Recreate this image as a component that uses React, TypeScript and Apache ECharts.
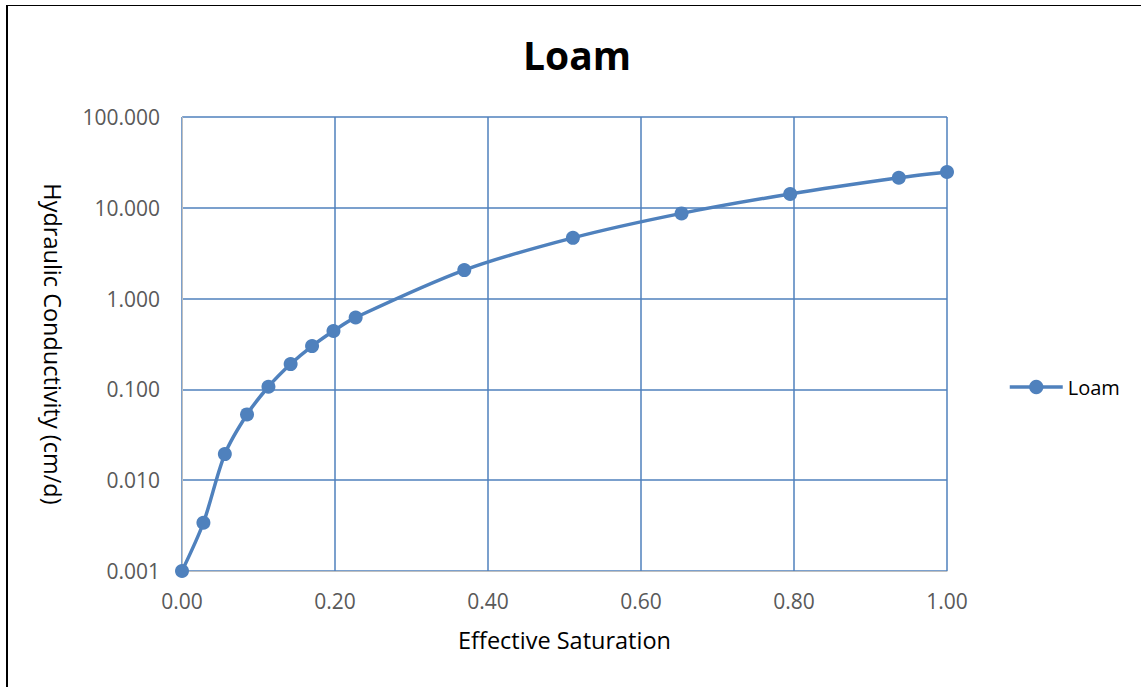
import React, { useEffect, useRef } from "react";
import * as echarts from "echarts";

// Effective saturation (x) and hydraulic conductivity in cm/d (y, log scale)
const saturation = [0, 0.028, 0.056, 0.085, 0.113, 0.142, 0.170, 0.198, 0.227, 0.369, 0.511, 0.653, 0.795, 0.937, 1.0];
const conductivity = [0.001, 0.0034, 0.0194, 0.053, 0.107, 0.19, 0.30, 0.44, 0.62, 2.06, 4.67, 8.68, 14.2, 21.4, 24.8];

const seriesName = "Loam";
const titleText = "Loam";
const xAxisTitle = "Effective Saturation";
const yAxisTitle = "Hydraulic Conductivity (cm/d)";

const BLUE = "#4f81bd";
const FONT = "'Open Sans', 'Noto Sans', sans-serif";

export default function App() {
  const ref = useRef<HTMLDivElement>(null);

  useEffect(() => {
    if (!ref.current) return;
    const chart = echarts.init(ref.current, undefined, { renderer: "svg" });
    const points = saturation.map((x, i) => [x, conductivity[i]]);
    chart.setOption({
      animation: false,
      title: {
        text: titleText,
        left: 572,
        textAlign: "center",
        top: 30,
        textStyle: { fontFamily: FONT, fontWeight: "bold", fontSize: 39, color: "#000" },
      },
      legend: {
        left: 1003,
        top: 372,
        orient: "vertical",
        itemWidth: 53,
        itemHeight: 18,
        itemGap: 4,
        lineStyle: { width: 3.5, color: BLUE },
        itemStyle: { color: BLUE },
        textStyle: { fontFamily: FONT, fontSize: 20, color: "#000", padding: [0, 0, 0, 0] },
        data: [seriesName],
      },
      grid: { left: 182, right: 194, top: 117, bottom: 116, containLabel: false },
      xAxis: {
        type: "value",
        min: 0,
        max: 1,
        interval: 0.2,
        name: xAxisTitle,
        nameLocation: "middle",
        nameGap: 57,
        nameTextStyle: { fontFamily: FONT, fontSize: 23.5, color: "#000" },
        axisLine: { show: true, lineStyle: { color: "#bfbfbf", width: 1 } },
        axisTick: { show: false },
        axisLabel: {
          margin: 19,
          fontFamily: FONT,
          fontSize: 21,
          color: "#595959",
          formatter: (v: number) => v.toFixed(2),
        },
        splitLine: { show: true, lineStyle: { color: BLUE, width: 1.5 } },
      },
      yAxis: {
        type: "log",
        logBase: 10,
        min: 0.001,
        max: 100,
        name: yAxisTitle,
        nameLocation: "middle",
        nameGap: 117,
        nameRotate: -90,
        nameTextStyle: { fontFamily: FONT, fontSize: 23.5, color: "#000" },
        axisLine: { show: true, lineStyle: { color: "#bfbfbf", width: 1 } },
        axisTick: { show: false },
        axisLabel: {
          margin: 22,
          fontFamily: FONT,
          fontSize: 21,
          color: "#595959",
          formatter: (v: number) => v.toFixed(3),
        },
        splitLine: { show: true, lineStyle: { color: BLUE, width: 1.5 } },
      },
      series: [
        {
          name: seriesName,
          type: "line",
          data: points,
          smooth: 0.3,
          symbol: "circle",
          symbolSize: 14,
          itemStyle: { color: BLUE },
          lineStyle: { color: BLUE, width: 3.5 },
        },
      ],
    });
    return () => chart.dispose();
  }, []);

  return (
    <div style={{ position: "fixed", left: 0, top: 0, width: 1141, height: 687, background: "#fff", overflow: "hidden" }}>
      <div ref={ref} style={{ position: "absolute", left: 0, top: 0, width: 1141, height: 687 }} />
      <div
        style={{
          position: "absolute",
          left: 6,
          top: 5,
          width: 1200,
          height: 720,
          borderLeft: "2px solid #000",
          borderTop: "1px solid #000",
          pointerEvents: "none",
        }}
      />
    </div>
  );
}
